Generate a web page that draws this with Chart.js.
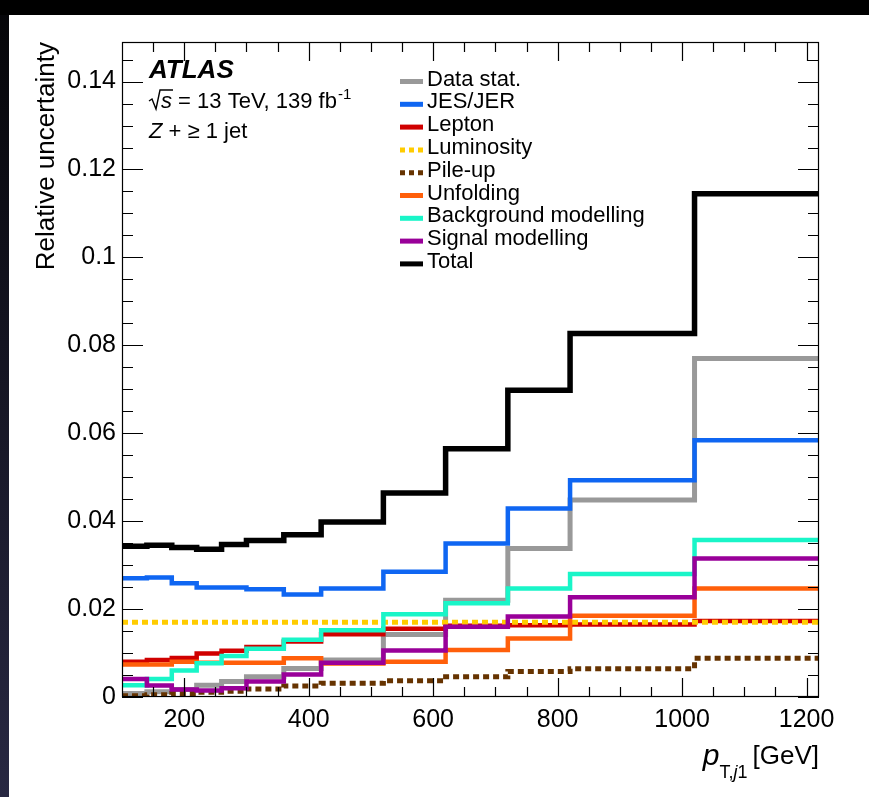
<!DOCTYPE html>
<html>
<head>
<meta charset="utf-8">
<title>Relative uncertainty vs leading jet pT</title>
<script src="https://cdn.jsdelivr.net/npm/chart.js@4.4.0/dist/chart.umd.min.js"></script>
<style>
    html, body { margin: 0; padding: 0; background: #fff; }
    #wrap { width: 869px; height: 797px; }
</style>
</head>
<body>
<div id="wrap"><canvas id="uncChart" width="869" height="797"></canvas></div>
<script>
// bin edges of the leading jet pT (GeV) and the relative uncertainty per bin
var binEdges = [100, 140, 180, 220, 260, 300, 360, 420, 520, 620, 720, 820, 1020, 1220];

var dataStat   = [0.0008, 0.0012, 0.0017, 0.0027, 0.0035, 0.0046, 0.0065, 0.0084, 0.0142, 0.0220, 0.0338, 0.0448, 0.0770];
var jesJer     = [0.0270, 0.0272, 0.0259, 0.0249, 0.0249, 0.0245, 0.0233, 0.0247, 0.0285, 0.0349, 0.0429, 0.0493, 0.0584];
var lepton     = [0.0080, 0.0084, 0.0089, 0.0099, 0.0105, 0.0114, 0.0126, 0.0143, 0.0155, 0.0162, 0.0163, 0.0165, 0.0173];
var luminosity = [0.017, 0.017, 0.017, 0.017, 0.017, 0.017, 0.017, 0.017, 0.017, 0.017, 0.017, 0.017, 0.017];
var pileUp     = [0.0003, 0.0005, 0.0008, 0.0011, 0.0013, 0.0018, 0.0025, 0.0031, 0.0037, 0.0046, 0.0058, 0.0064, 0.0088];
var unfolding  = [0.0074, 0.0074, 0.0080, 0.0078, 0.0078, 0.0078, 0.0088, 0.0076, 0.0080, 0.0107, 0.0133, 0.0185, 0.0247];
var bkgModel   = [0.0027, 0.0041, 0.0060, 0.0077, 0.0093, 0.0110, 0.0130, 0.0152, 0.0188, 0.0213, 0.0247, 0.0280, 0.0357];
var sigModel   = [0.0041, 0.0026, 0.0017, 0.0015, 0.0020, 0.0035, 0.0051, 0.0078, 0.0106, 0.0160, 0.0183, 0.0227, 0.0315];
var total      = [0.0343, 0.0345, 0.0340, 0.0336, 0.0347, 0.0356, 0.0369, 0.0398, 0.0464, 0.0565, 0.0698, 0.0827, 0.1145];

var seriesLabels = ['Data stat.', 'JES/JER', 'Lepton', 'Luminosity', 'Pile-up', 'Unfolding',
                    'Background modelling', 'Signal modelling', 'Total'];
var xTickValues = [200, 400, 600, 800, 1000, 1200];
var yTickValues = [0, 0.02, 0.04, 0.06, 0.08, 0.1, 0.12, 0.14];

var FONT = '"Liberation Sans", Arial, Helvetica, sans-serif';

// one point per bin edge, last value repeated so the final bin closes at the right edge
function toSteps(vals) {
    var pts = [];
    for (var i = 0; i < binEdges.length; i++) {
        pts.push({ x: binEdges[i], y: vals[Math.min(i, vals.length - 1)] });
    }
    return pts;
}

var seriesValues = [dataStat, jesJer, lepton, luminosity, pileUp, unfolding, bkgModel, sigModel, total];
var seriesColors = ['#999999', '#0f66f2', '#d00000', '#ffcc00', '#663300', '#ff5f0a', '#19f5c8', '#990099', '#000000'];
var seriesWidths = [5, 4.5, 4.5, 5, 5, 4.5, 4.5, 4.5, 5.5];
var seriesDash   = [[], [], [], [6, 4], [6, 4], [], [], [], []];

var datasets = [];
for (var i = 0; i < seriesLabels.length; i++) {
    datasets.push({
        label: seriesLabels[i],
        data: toSteps(seriesValues[i]),
        borderColor: seriesColors[i],
        borderWidth: seriesWidths[i],
        borderDash: seriesDash[i],
        borderCapStyle: 'butt',
        stepped: true,
        fill: false,
        pointRadius: 0,
        order: seriesLabels.length - i   // later entries drawn on top
    });
}

function italicFont(px, bold) { return (bold ? 'italic bold ' : 'italic ') + px + 'px ' + FONT; }
function plainFont(px) { return px + 'px ' + FONT; }

var atlasDecor = {
    id: 'atlasDecor',
    beforeDraw: function (chart) {
        var ctx = chart.ctx;
        ctx.save();
        ctx.fillStyle = '#fff';
        ctx.fillRect(0, 0, chart.width, chart.height);
        var g = ctx.createLinearGradient(0, 0, 0, chart.height);
        g.addColorStop(0, '#050508');
        g.addColorStop(1, '#282842');
        ctx.fillStyle = g;
        ctx.fillRect(0, 0, 9, chart.height);
        ctx.fillStyle = '#000';
        ctx.fillRect(0, 0, chart.width, 15);
        ctx.restore();
    },
    afterDatasetsDraw: function (chart) {
        var ctx = chart.ctx;
        var a = chart.chartArea;
        var xs = chart.scales.x, ys = chart.scales.y;
        ctx.save();

        // frame
        ctx.strokeStyle = '#000';
        ctx.lineWidth = 1.2;
        ctx.strokeRect(a.left + 0.5, a.top + 0.5, a.right - a.left - 1, a.bottom - a.top - 1);

        // inward ticks on all four sides
        ctx.beginPath();
        for (var k = 0; k * 0.005 <= ys.max + 1e-9; k++) {
            var py = Math.round(ys.getPixelForValue(k * 0.005)) + 0.5;
            var len = (k % 4 === 0) ? 21 : 11;
            ctx.moveTo(a.left, py); ctx.lineTo(a.left + len, py);
            ctx.moveTo(a.right, py); ctx.lineTo(a.right - len, py);
        }
        for (var v = 150; v <= xs.max; v += 50) {
            var px = Math.round(xs.getPixelForValue(v)) + 0.5;
            var xl = (v % 200 === 0) ? 19 : 10;
            ctx.moveTo(px, a.bottom); ctx.lineTo(px, a.bottom - xl);
            ctx.moveTo(px, a.top); ctx.lineTo(px, a.top + xl);
        }
        ctx.stroke();

        ctx.fillStyle = '#000';
        ctx.textAlign = 'left';
        ctx.textBaseline = 'alphabetic';

        // ATLAS label block
        ctx.font = italicFont(26, true);
        ctx.fillText('ATLAS', 149, 78);

        var x0 = 149, base = 108;
        ctx.lineWidth = 1.4;
        ctx.beginPath();
        ctx.moveTo(x0, base - 7);
        ctx.lineTo(x0 + 3, base - 9);
        ctx.lineTo(x0 + 7, base + 1);
        ctx.lineTo(x0 + 11, base - 18);
        ctx.lineTo(x0 + 24, base - 18);
        ctx.stroke();
        ctx.font = italicFont(22);
        ctx.fillText('s', x0 + 12, base);
        ctx.font = plainFont(22);
        var txt = ' = 13 TeV, 139 fb';
        ctx.fillText(txt, x0 + 23, base);
        var tw = ctx.measureText(txt).width;
        ctx.font = plainFont(15);
        ctx.fillText('-1', x0 + 24 + tw, base - 9);

        ctx.font = italicFont(22);
        ctx.fillText('Z', 149, 138);
        var zw = ctx.measureText('Z').width;
        ctx.font = plainFont(22);
        ctx.fillText(' + \u2265 1 jet', 149 + zw, 138);

        // legend
        ctx.textBaseline = 'middle';
        ctx.font = plainFont(22);
        for (var i = 0; i < seriesLabels.length; i++) {
            var ly = 81.5 + i * 22.8;
            ctx.strokeStyle = seriesColors[i];
            ctx.lineWidth = 5;
            ctx.setLineDash(seriesDash[i].length ? [5, 4] : []);
            ctx.beginPath();
            ctx.moveTo(400, ly);
            ctx.lineTo(423, ly);
            ctx.stroke();
            ctx.setLineDash([]);
            ctx.fillText(seriesLabels[i], 427, ly - 2);
        }

        // y title, aligned to the top of the axis
        ctx.save();
        ctx.translate(47, a.top);
        ctx.rotate(-Math.PI / 2);
        ctx.textAlign = 'right';
        ctx.textBaseline = 'middle';
        ctx.font = plainFont(26);
        ctx.fillText('Relative uncertainty', 0, 0);
        ctx.restore();

        // x title, aligned to the right end of the axis
        ctx.textBaseline = 'alphabetic';
        ctx.font = plainFont(26);
        var gev = '[GeV]';
        var gw = ctx.measureText(gev).width;
        var xr = a.right - gw;
        ctx.fillText(gev, xr, 764);
        ctx.font = plainFont(18);
        var w1 = ctx.measureText('1').width;
        ctx.font = italicFont(18);
        var wj = ctx.measureText('j').width;
        ctx.font = plainFont(18);
        var wt = ctx.measureText('T,').width;
        var sx = xr - 5 - w1 - wj - wt;
        ctx.fillText('T,', sx, 778);
        ctx.font = italicFont(18);
        ctx.fillText('j', sx + wt, 778);
        ctx.font = plainFont(18);
        ctx.fillText('1', sx + wt + wj, 778);
        ctx.font = italicFont(30);
        var pw = ctx.measureText('p').width;
        ctx.fillText('p', sx - pw, 765);

        ctx.restore();
    }
};

var ctx = document.getElementById('uncChart').getContext('2d');
var uncChart = new Chart(ctx, {
    type: 'line',
    data: { datasets: datasets },
    options: {
        responsive: false,
        animation: false,
        devicePixelRatio: 1,
        layout: { padding: { left: 0, top: 42, right: 50, bottom: 0 } },
        plugins: { legend: { display: false }, tooltip: { enabled: false } },
        scales: {
            x: {
                type: 'linear',
                min: 100,
                max: 1220,
                grid: { display: false, drawTicks: false },
                border: { display: false },
                afterFit: function (scale) { scale.height = 100; },
                afterBuildTicks: function (scale) {
                    scale.ticks = xTickValues.map(function (v) { return { value: v }; });
                },
                ticks: {
                    padding: 8,
                    maxRotation: 0,
                    autoSkip: false,
                    color: '#000',
                    font: { family: FONT, size: 25 },
                    callback: function (v) { return String(v); }
                }
            },
            y: {
                type: 'linear',
                min: 0,
                max: 0.149,
                grid: { display: false, drawTicks: false },
                border: { display: false },
                afterFit: function (scale) { scale.width = 122; },
                afterBuildTicks: function (scale) {
                    scale.ticks = yTickValues.map(function (v) { return { value: v }; });
                },
                ticks: {
                    padding: 6,
                    autoSkip: false,
                    color: '#000',
                    font: { family: FONT, size: 25 },
                    callback: function (v) { return String(+v.toFixed(2)); }
                }
            }
        }
    },
    plugins: [atlasDecor]
});
</script>
</body>
</html>
